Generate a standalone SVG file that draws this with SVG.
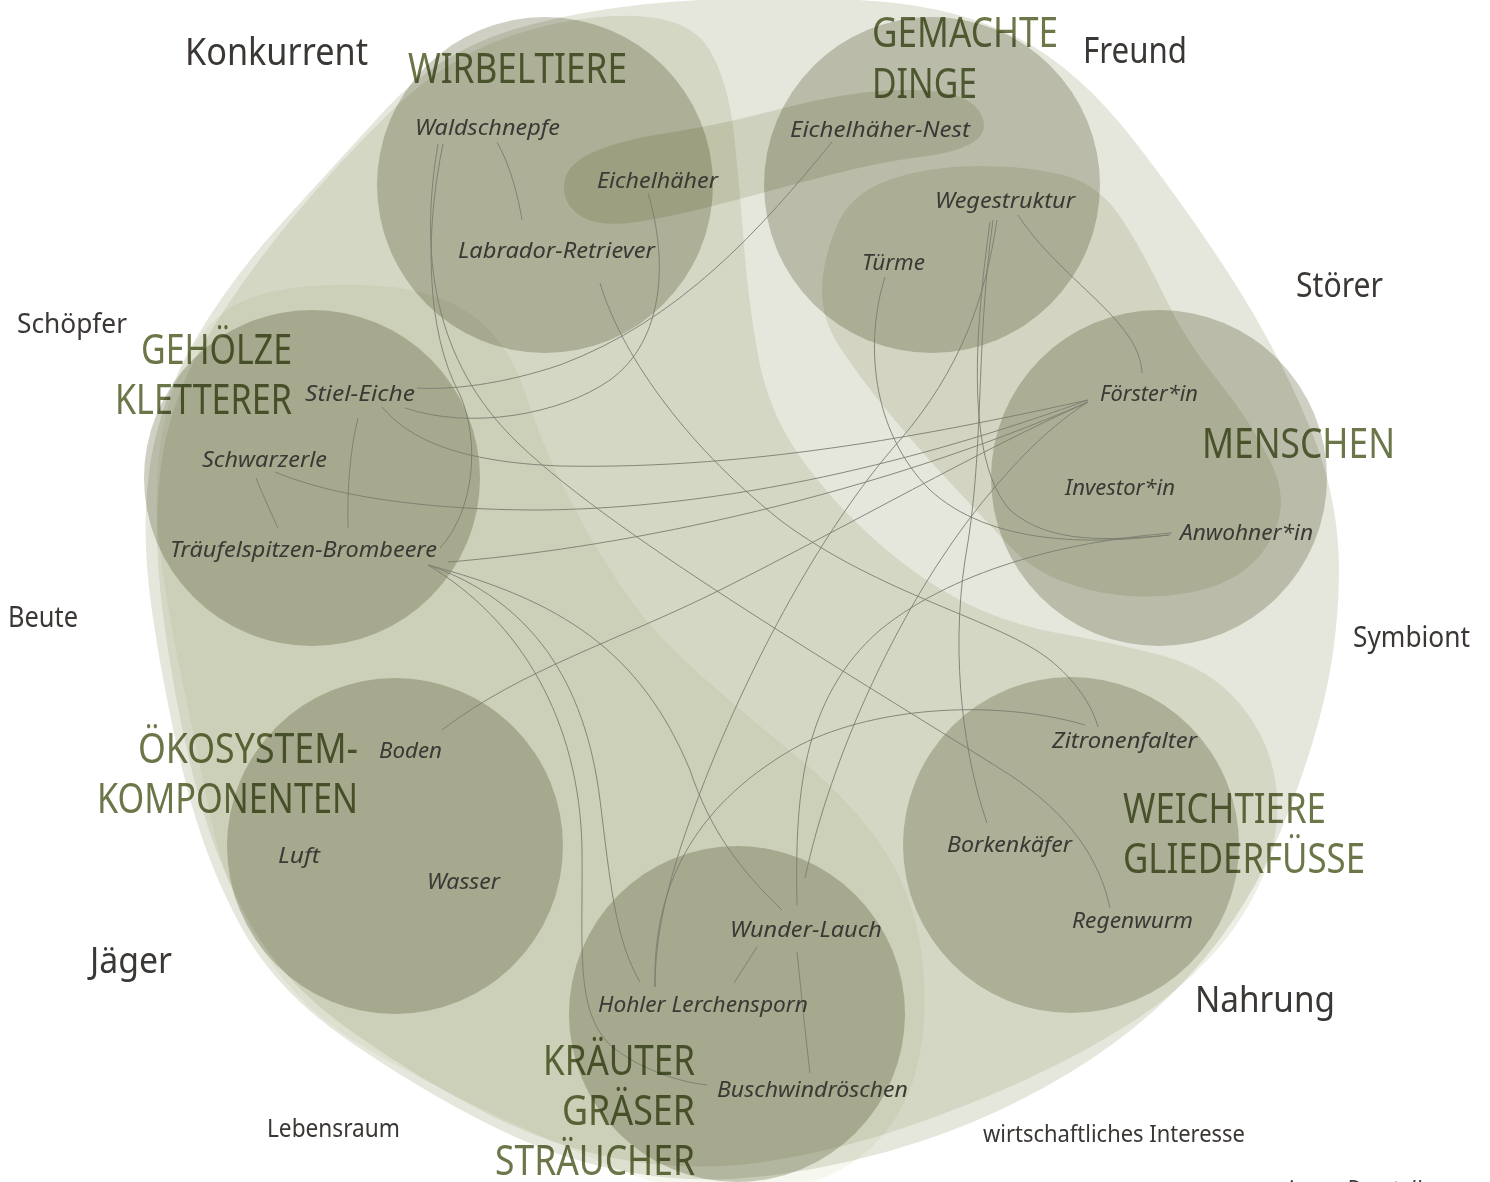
<svg xmlns="http://www.w3.org/2000/svg" width="1490" height="1182" viewBox="0 0 1490 1182">
<style>
.l0{fill:#e5e7dd;mix-blend-mode:multiply}
.band{fill:#edeee4;mix-blend-mode:multiply}
.yel{fill:#f6f7ef;mix-blend-mode:multiply}
.blob{fill:#e6e7da;mix-blend-mode:multiply}
.weg{fill:#ebebe0;mix-blend-mode:multiply}
.circ{fill:#cfd0c3;mix-blend-mode:multiply}
.cat{font-family:"Noto Sans","Open Sans",sans-serif;font-size:41px;fill:#6b7748;mix-blend-mode:multiply}
.rel{font-family:"Noto Sans","Open Sans",sans-serif;fill:#3b3735}
.nd{font-family:"Noto Sans","Open Sans",sans-serif;font-style:italic;font-size:22px;fill:#3a3935}
.cn{fill:none;stroke:#7c7d70;stroke-width:0.9}
</style>
<rect x="0" y="0" width="1490" height="1182" fill="#ffffff"/>
<g id="background">
<path class="l0" d="M280,225 Q330,170 385,110 Q440,50 520,27.5 Q600,5 700,0 Q800,-5 880,1.5 Q960,8 1020,39 Q1080,70 1137.5,145 Q1195,220 1237.5,287.5 Q1280,355 1310,427.5 Q1340,500 1339,575 Q1338,650 1319,720 Q1300,790 1270,855 Q1240,920 1190,975 Q1140,1030 1070,1072.5 Q1000,1115 925,1140 Q850,1165 775,1175 Q700,1185 630,1172.5 Q560,1160 490,1125 Q420,1090 347.5,1040 Q275,990 240,925 Q205,860 185,780 Q165,700 152.5,615 Q140,530 150,465 Q160,400 195,340 Q230,280 280,225 Z"/>
<path class="band" d="M395,107.5 Q450,55 515,34.5 Q580,14 635,16 Q690,18 709,49 Q728,80 734,135 Q740,190 744,245 Q748,300 758,355 Q768,410 799,455 Q830,500 875,540 Q920,580 965,602.5 Q1010,625 1060,633.5 Q1110,642 1160,655 Q1210,668 1240,704 Q1270,740 1276,785 Q1282,830 1263.5,875 Q1245,920 1210,957.5 Q1175,995 1127.5,1025 Q1080,1055 1025,1080 Q970,1105 905,1127.5 Q840,1150 770,1161 Q700,1172 630,1161 Q560,1150 490,1115 Q420,1080 351,1031 Q282,982 248,920 Q214,858 194,779 Q174,700 163,615 Q152,530 161,465 Q170,400 205,341 Q240,282 290,221 Q340,160 395,107.5 Z"/>
<path class="yel" d="M275,291 Q320,282 380,286 Q440,290 475,317.5 Q510,345 525,392.5 Q540,440 565,490 Q590,540 620,585 Q650,630 695,670 Q740,710 795,755 Q850,800 881,845 Q912,890 921,950 Q930,1010 917.5,1065 Q905,1120 862.5,1155 Q820,1190 750,1192.5 Q680,1195 620,1170 Q560,1145 495,1115 Q430,1085 365,1047.5 Q300,1010 262.5,950 Q225,890 210,815 Q195,740 180,670 Q165,600 158.5,535 Q152,470 166,415 Q180,360 205,330 Q230,300 275,291 Z"/>
<path class="weg" d="M822,291 Q822,262 836,227.5 Q850,193 890,179.5 Q930,166 980,166 Q1030,166 1065,175.5 Q1100,185 1122.5,220 Q1145,255 1165,297.5 Q1185,340 1217.5,380 Q1250,420 1271,462.5 Q1292,505 1268.5,543.5 Q1245,582 1192.5,592 Q1140,602 1090,590 Q1040,578 1012.5,549 Q985,520 950,482.5 Q915,445 886.5,410 Q858,375 840,347.5 Q822,320 822,291 Z"/>
<path class="blob" d="M564,185 Q565,165 592.5,152.5 Q620,140 670,132.5 Q720,125 770,111.5 Q820,98 860,93 Q900,88 935,91.5 Q970,95 980,112.5 Q990,130 975,141 Q960,152 920,157 Q880,162 830,175 Q780,188 730,201.5 Q680,215 640,221.5 Q600,228 581.5,216.5 Q563,205 564,185 Z"/>
</g>
<g id="cat-wirbeltiere"><circle class="circ" cx="545" cy="185" r="168"/></g>
<g id="cat-gemachte-dinge"><circle class="circ" cx="932" cy="185" r="168"/></g>
<g id="cat-menschen"><circle class="circ" cx="1159" cy="478" r="168"/></g>
<g id="cat-weichtiere"><circle class="circ" cx="1071" cy="845" r="168"/></g>
<g id="cat-kraeuter"><circle class="circ" cx="737" cy="1014" r="168"/></g>
<g id="cat-oekosystem"><circle class="circ" cx="395" cy="846" r="168"/></g>
<g id="cat-gehoelze"><circle class="circ" cx="312" cy="478" r="168"/></g>
<g id="connectors">
<path class="cn" d="M497,142 C510,165 518,195 522,220"/>
<path class="cn" d="M443,144 C425,230 425,330 460,395 C480,440 475,510 440,548"/>
<path class="cn" d="M438,144 C420,250 430,360 520,445 C620,540 860,680 1010,775 C1070,815 1100,860 1110,908"/>
<path class="cn" d="M600,283 C620,350 680,440 780,520 C880,595 1000,620 1050,660 C1075,680 1092,705 1098,727"/>
<path class="cn" d="M648,193 C668,260 665,340 610,380 C560,415 470,430 405,408"/>
<path class="cn" d="M832,142 C760,230 680,320 560,365 C500,385 450,390 417,388"/>
<path class="cn" d="M1018,215 C1060,280 1140,320 1142,373"/>
<path class="cn" d="M997,220 C985,300 960,370 900,440 C820,530 740,680 690,820 C665,890 655,940 655,987"/>
<path class="cn" d="M993,220 C975,350 985,450 965,560 C950,660 965,760 987,823"/>
<path class="cn" d="M990,222 C975,330 965,460 1010,510 C1050,545 1110,540 1170,535"/>
<path class="cn" d="M885,277 C865,340 870,430 930,490 C990,545 1090,545 1168,535"/>
<path class="cn" d="M382,407 C410,440 460,462 560,466 C760,470 950,430 1088,400"/>
<path class="cn" d="M275,472 C330,495 420,510 540,510 C750,508 950,450 1088,400"/>
<path class="cn" d="M448,562 C600,550 850,505 1088,402"/>
<path class="cn" d="M442,730 C520,670 620,640 720,590 C850,525 980,450 1088,402"/>
<path class="cn" d="M805,878 C830,760 900,600 990,493 C1030,445 1060,420 1088,402"/>
<path class="cn" d="M797,905 C795,800 800,700 880,630 C960,565 1080,540 1172,533"/>
<path class="cn" d="M655,987 C652,880 700,800 800,745 C880,705 1000,700 1085,725"/>
<path class="cn" d="M428,565 C520,620 580,720 582,850 C583,950 575,1010 610,1045 C640,1070 680,1082 707,1085"/>
<path class="cn" d="M428,565 C530,600 585,680 600,800 C610,880 615,940 640,982"/>
<path class="cn" d="M428,565 C560,600 640,650 690,770 C710,830 740,870 782,910"/>
<path class="cn" d="M256,478 C265,500 272,515 278,528"/>
<path class="cn" d="M358,418 C350,450 347,490 348,528"/>
<path class="cn" d="M757,947 L734,983"/>
<path class="cn" d="M797,952 C802,1000 806,1040 810,1073"/>
</g>
<g id="category-labels">
<text class="cat" x="408" y="83" textLength="219" lengthAdjust="spacingAndGlyphs">WIRBELTIERE</text>
<text class="cat" x="872" y="47" textLength="186" lengthAdjust="spacingAndGlyphs">GEMACHTE</text>
<text class="cat" x="872" y="98" textLength="105" lengthAdjust="spacingAndGlyphs">DINGE</text>
<text class="cat" x="1202" y="458" textLength="193" lengthAdjust="spacingAndGlyphs">MENSCHEN</text>
<text class="cat" x="141" y="364" textLength="151" lengthAdjust="spacingAndGlyphs">GEHÖLZE</text>
<text class="cat" x="115" y="414" textLength="177" lengthAdjust="spacingAndGlyphs">KLETTERER</text>
<text class="cat" x="138" y="763" textLength="220" lengthAdjust="spacingAndGlyphs">ÖKOSYSTEM-</text>
<text class="cat" x="97" y="813" textLength="261" lengthAdjust="spacingAndGlyphs">KOMPONENTEN</text>
<text class="cat" x="543" y="1075" textLength="152" lengthAdjust="spacingAndGlyphs">KRÄUTER</text>
<text class="cat" x="562" y="1125" textLength="133" lengthAdjust="spacingAndGlyphs">GRÄSER</text>
<text class="cat" x="495" y="1175" textLength="200" lengthAdjust="spacingAndGlyphs">STRÄUCHER</text>
<text class="cat" x="1123" y="823" textLength="203" lengthAdjust="spacingAndGlyphs">WEICHTIERE</text>
<text class="cat" x="1123" y="873" textLength="242" lengthAdjust="spacingAndGlyphs">GLIEDERFÜSSE</text>
</g>
<g id="relation-labels">
<text class="rel" x="185" y="65" font-size="38" textLength="183" lengthAdjust="spacingAndGlyphs">Konkurrent</text>
<text class="rel" x="1083" y="63" font-size="36" textLength="104" lengthAdjust="spacingAndGlyphs">Freund</text>
<text class="rel" x="1296" y="297" font-size="35" textLength="87" lengthAdjust="spacingAndGlyphs">Störer</text>
<text class="rel" x="17" y="333" font-size="28" textLength="110" lengthAdjust="spacingAndGlyphs">Schöpfer</text>
<text class="rel" x="8" y="627" font-size="29" textLength="70" lengthAdjust="spacingAndGlyphs">Beute</text>
<text class="rel" x="1353" y="647" font-size="29" textLength="117" lengthAdjust="spacingAndGlyphs">Symbiont</text>
<text class="rel" x="90" y="973" font-size="36" textLength="82" lengthAdjust="spacingAndGlyphs">Jäger</text>
<text class="rel" x="267" y="1137" font-size="25" textLength="133" lengthAdjust="spacingAndGlyphs">Lebensraum</text>
<text class="rel" x="1195" y="1012" font-size="37" textLength="140" lengthAdjust="spacingAndGlyphs">Nahrung</text>
<text class="rel" x="983" y="1142" font-size="23" textLength="262" lengthAdjust="spacingAndGlyphs">wirtschaftliches Interesse</text>
<text class="nd" x="1276" y="1196" font-size="22">eigene Darstellung</text>
</g>
<g id="node-waldschnepfe"><text class="nd" x="415" y="135" textLength="145" lengthAdjust="spacingAndGlyphs">Waldschnepfe</text></g>
<g id="node-eichelhaeher"><text class="nd" x="597" y="188" textLength="121" lengthAdjust="spacingAndGlyphs">Eichelhäher</text></g>
<g id="node-labrador"><text class="nd" x="458" y="258" textLength="197" lengthAdjust="spacingAndGlyphs">Labrador-Retriever</text></g>
<g id="node-eichelhaeher-nest"><text class="nd" x="790" y="137" textLength="180" lengthAdjust="spacingAndGlyphs">Eichelhäher-Nest</text></g>
<g id="node-wegestruktur"><text class="nd" x="935" y="208" textLength="140" lengthAdjust="spacingAndGlyphs">Wegestruktur</text></g>
<g id="node-tuerme"><text class="nd" x="862" y="270" textLength="63" lengthAdjust="spacingAndGlyphs">Türme</text></g>
<g id="node-foerster"><text class="nd" x="1100" y="401" textLength="98" lengthAdjust="spacingAndGlyphs">Förster*in</text></g>
<g id="node-investor"><text class="nd" x="1065" y="495" textLength="110" lengthAdjust="spacingAndGlyphs">Investor*in</text></g>
<g id="node-anwohner"><text class="nd" x="1180" y="540" textLength="133" lengthAdjust="spacingAndGlyphs">Anwohner*in</text></g>
<g id="node-stiel-eiche"><text class="nd" x="305" y="401" textLength="110" lengthAdjust="spacingAndGlyphs">Stiel-Eiche</text></g>
<g id="node-schwarzerle"><text class="nd" x="202" y="467" textLength="125" lengthAdjust="spacingAndGlyphs">Schwarzerle</text></g>
<g id="node-brombeere"><text class="nd" x="170" y="557" textLength="267" lengthAdjust="spacingAndGlyphs">Träufelspitzen-Brombeere</text></g>
<g id="node-boden"><text class="nd" x="379" y="758" textLength="63" lengthAdjust="spacingAndGlyphs">Boden</text></g>
<g id="node-luft"><text class="nd" x="278" y="863" textLength="42" lengthAdjust="spacingAndGlyphs">Luft</text></g>
<g id="node-wasser"><text class="nd" x="427" y="889" textLength="73" lengthAdjust="spacingAndGlyphs">Wasser</text></g>
<g id="node-wunder-lauch"><text class="nd" x="730" y="937" textLength="152" lengthAdjust="spacingAndGlyphs">Wunder-Lauch</text></g>
<g id="node-lerchensporn"><text class="nd" x="598" y="1012" textLength="210" lengthAdjust="spacingAndGlyphs">Hohler Lerchensporn</text></g>
<g id="node-buschwindroeschen"><text class="nd" x="717" y="1097" textLength="191" lengthAdjust="spacingAndGlyphs">Buschwindröschen</text></g>
<g id="node-zitronenfalter"><text class="nd" x="1052" y="748" textLength="145" lengthAdjust="spacingAndGlyphs">Zitronenfalter</text></g>
<g id="node-borkenkaefer"><text class="nd" x="947" y="852" textLength="125" lengthAdjust="spacingAndGlyphs">Borkenkäfer</text></g>
<g id="node-regenwurm"><text class="nd" x="1072" y="928" textLength="121" lengthAdjust="spacingAndGlyphs">Regenwurm</text></g>
</svg>
